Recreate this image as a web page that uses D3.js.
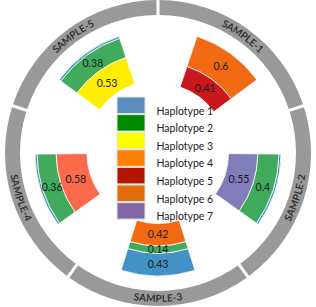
<!DOCTYPE html>
<html lang="en">
<head>
    <meta charset="utf-8">
    <title>Haplotype circle</title>
    <script src="https://cdn.jsdelivr.net/npm/d3@7"></script>
    <style>
        body { margin: 0; background: #fff; }
        text { font-family: Lato, "Open Sans", sans-serif; }
    </style>
</head>
<body>

<div id="chart"></div>

<script>
    // sample names, clockwise from the top
    const samples = ["SAMPLE-1", "SAMPLE-2", "SAMPLE-3", "SAMPLE-4", "SAMPLE-5"];

    // haplotype frequencies per sample (same order as samples)
    const hap1 = [0, 0.04, 0.43, 0.04, 0.04];
    const hap2 = [0, 0.40, 0.14, 0.36, 0.38];
    const hap3 = [0, 0, 0, 0, 0.53];
    const hap4 = [0, 0, 0, 0.58, 0];
    const hap5 = [0.41, 0, 0, 0, 0];
    const hap6 = [0.60, 0, 0.42, 0, 0];
    const hap7 = [0, 0.55, 0, 0, 0];

    const haplotypes = ["Haplotype 1", "Haplotype 2", "Haplotype 3", "Haplotype 4",
                        "Haplotype 5", "Haplotype 6", "Haplotype 7"];

    // stacking order from the outside in
    const stackOrder = ["Haplotype 1", "Haplotype 2", "Haplotype 3", "Haplotype 4",
                        "Haplotype 6", "Haplotype 5", "Haplotype 7"];

    const barColors = ["#4292c6", "#41ab5d", "#ffee00", "#fb6a4a", "#cb181d", "#f16913", "#807dba"];
    const legendColors = ["#5b8cc0", "#008a00", "#ffff00", "#ff7f00", "#b31500", "#e36c0a", "#8566a4"];

    const width = 316, height = 307;
    const cx = 158, cy = 153;

    const svg = d3.select("#chart")
        .append("svg")
            .attr("width", width)
            .attr("height", height)
        .append("g")
            .attr("transform", "translate(" + cx + "," + cy + ")");

    // one row per sample for d3.stack
    const cols = [hap1, hap2, hap3, hap4, hap5, hap6, hap7];
    const rows = samples.map((s, i) => {
        const row = {sample: s};
        haplotypes.forEach((h, j) => row[h] = cols[j][i]);
        return row;
    });

    // outer ring, equal sectors
    const pie = d3.pie().value(1).sort(null);
    const sectors = pie(samples);

    const ringArc = d3.arc()
        .innerRadius(138)
        .outerRadius(153)
        .padAngle(0.02)
        .padRadius(150);

    svg.selectAll(".ring")
        .data(sectors)
        .enter()
        .append("path")
            .attr("class", "ring")
            .attr("d", ringArc)
            .attr("fill", "#999999");

    // curved label paths, flipped on the lower half so text reads upright
    const labelR = 145.5;
    const toCanvas = a => a - Math.PI / 2;

    sectors.forEach((d, i) => {
        const mid = (d.startAngle + d.endAngle) / 2;
        const flip = mid > Math.PI / 2 && mid < 3 * Math.PI / 2;
        const p = d3.path();
        if (flip) {
            p.arc(0, 0, labelR, toCanvas(d.endAngle), toCanvas(d.startAngle), true);
        } else {
            p.arc(0, 0, labelR, toCanvas(d.startAngle), toCanvas(d.endAngle), false);
        }
        svg.append("path")
            .attr("id", "lab" + i)
            .attr("d", p.toString())
            .attr("fill", "none");

        svg.append("text")
            .attr("dy", "0.35em")
            .style("font-size", "10px")
            .style("font-weight", "bold")
            .attr("fill", "#333")
            .append("textPath")
                .attr("href", "#lab" + i)
                .attr("startOffset", "50%")
                .attr("text-anchor", "middle")
                .text(samples[i]);
    });

    // stacked radial blocks
    const stack = d3.stack().keys(stackOrder);
    const series = stack(rows);

    const r = d3.scaleLinear()
        .domain([0, 1])
        .range([123, 70]);

    const halfSpan = 17.5 * Math.PI / 180;

    const blockArc = d3.arc()
        .innerRadius(d => r(d[1]))
        .outerRadius(d => r(d[0]))
        .startAngle(d => d.mid - halfSpan)
        .endAngle(d => d.mid + halfSpan);

    const segs = [];
    series.forEach(s => {
        const k = haplotypes.indexOf(s.key);
        s.forEach((d, i) => {
            const v = d[1] - d[0];
            if (v <= 0) return;
            const seg = [d[0], d[1]];
            seg.mid = (sectors[i].startAngle + sectors[i].endAngle) / 2;
            seg.value = v;
            seg.color = barColors[k];
            segs.push(seg);
        });
    });

    svg.selectAll(".seg")
        .data(segs)
        .enter()
        .append("path")
            .attr("class", "seg")
            .attr("d", blockArc)
            .attr("fill", d => d.color)
            .attr("stroke", "#fff")
            .attr("stroke-width", 0.8);

    svg.selectAll(".val")
        .data(segs.filter(d => d.value >= 0.1))
        .enter()
        .append("text")
            .attr("class", "val")
            .attr("transform", d => "translate(" + blockArc.centroid(d) + ")")
            .attr("text-anchor", "middle")
            .attr("dy", "0.35em")
            .style("font-size", "10.5px")
            .attr("fill", "#1a1a1a")
            .text(d => +d.value.toFixed(2));

    // legend in the middle
    const legend = d3.select("svg").append("g")
        .attr("transform", "translate(117, 97)");

    const items = legend.selectAll(".legend-item")
        .data(haplotypes)
        .enter()
        .append("g")
            .attr("class", "legend-item")
            .attr("transform", (d, i) => `translate(0, ${i * 17.6})`);

    items.append("rect")
        .attr("width", 28)
        .attr("height", 16.5)
        .attr("fill", (d, i) => legendColors[i])
        .attr("stroke", "#e4e4e4")
        .attr("stroke-width", 1);

    items.append("text")
        .attr("x", 39.5)
        .attr("y", 14)
        .attr("dy", "0.35em")
        .style("font-size", "10.5px")
        .attr("fill", "#222")
        .text(d => d);
</script>

</body>
</html>
